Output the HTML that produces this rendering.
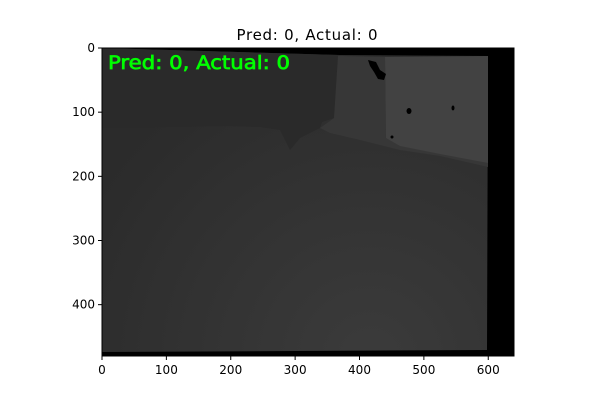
<!DOCTYPE html>
<html><head><meta charset="utf-8"><style>
body{margin:0;background:#fff;font-family:"Liberation Sans","DejaVu Sans",sans-serif}
svg text{font-family:"DejaVu Sans","Liberation Sans",sans-serif}
</style></head><body>
<svg width="600" height="400" viewBox="0 0 600 400">
<defs>
<radialGradient id="floor" cx="370" cy="360" r="320" gradientUnits="userSpaceOnUse">
<stop offset="0" stop-color="#3b3b3b"/><stop offset="1" stop-color="#2b2b2b"/>
</radialGradient>
</defs>
<text x="307" y="40" font-size="15" text-anchor="middle" textLength="141">Pred: 0, Actual: 0</text>
<g id="plot">
<rect x="102" y="48" width="412" height="308" fill="#000"/>
<polygon points="102,48 340,55 488,56 487,350 102,352" fill="url(#floor)"/>
<polygon points="102,48 338,55 334,118 322,122 320,128 300,138 290,150 280,130 260,127 230,126 102,128" fill="#2a2a2a"/>
<polygon points="338,56 385,57 386,138 420,142 460,152 488,158 488,167 440,156 400,150 360,140 330,133 320,128 334,118" fill="#373737"/>
<polygon points="385,57 488,56 488,163 440,154 400,146 386,138" fill="#424242"/>
<path d="M368,60 L376,62 L380,70 L386,74 L384,80 L378,79 L374,72 L370,66Z" fill="#000"/>
<ellipse cx="409" cy="111" rx="2.5" ry="3" fill="#000"/>
<ellipse cx="453" cy="108" rx="1.5" ry="2.5" fill="#000"/>
<ellipse cx="392" cy="137" rx="1.5" ry="1.5" fill="#000"/>
<text x="108" y="69" font-size="19" fill="#00ff00" stroke="#00ff00" stroke-width="0.7" textLength="182" lengthAdjust="spacingAndGlyphs">Pred: 0, Actual: 0</text>
<rect x="102" y="48" width="412" height="308" fill="none" stroke="#000" stroke-width="1"/>
</g>
<g id="xaxis"></g>
<g id="yaxis"></g>
</svg>
<script>
const xTicks=[0,100,200,300,400,500,600];
const yTicks=[0,100,200,300,400];
const xDomain=[0,640], yDomain=[0,480];
const x0=102,x1=514,y0=48,y1=356;
const sx=v=>x0+(v-xDomain[0])/(xDomain[1]-xDomain[0])*(x1-x0);
const sy=v=>y0+(v-yDomain[0])/(yDomain[1]-yDomain[0])*(y1-y0);
const ns='http://www.w3.org/2000/svg';
const xa=document.getElementById('xaxis'), ya=document.getElementById('yaxis');
xTicks.forEach(t=>{
 const l=document.createElementNS(ns,'line');
 l.setAttribute('x1',sx(t));l.setAttribute('x2',sx(t));l.setAttribute('y1',y1);l.setAttribute('y2',y1+4);l.setAttribute('stroke','#000');
 
 
 xa.appendChild(l);
 const tx=document.createElementNS(ns,'text');
 tx.setAttribute('x',sx(t));tx.setAttribute('y',y1+18);tx.setAttribute('font-size','12');tx.setAttribute('text-anchor','middle');
 tx.textContent=t;
 
 
 xa.appendChild(tx);
});
yTicks.forEach(t=>{
 const l=document.createElementNS(ns,'line');
 l.setAttribute('x1',x0-4);l.setAttribute('x2',x0);l.setAttribute('y1',sy(t));l.setAttribute('y2',sy(t));l.setAttribute('stroke','#000');
 
 
 ya.appendChild(l);
 const tx=document.createElementNS(ns,'text');
 tx.setAttribute('x',x0-7);tx.setAttribute('y',sy(t)+4);tx.setAttribute('font-size','12');tx.setAttribute('text-anchor','end');
 tx.textContent=t;
 
 
 ya.appendChild(tx);
});
</script>
</body></html>
